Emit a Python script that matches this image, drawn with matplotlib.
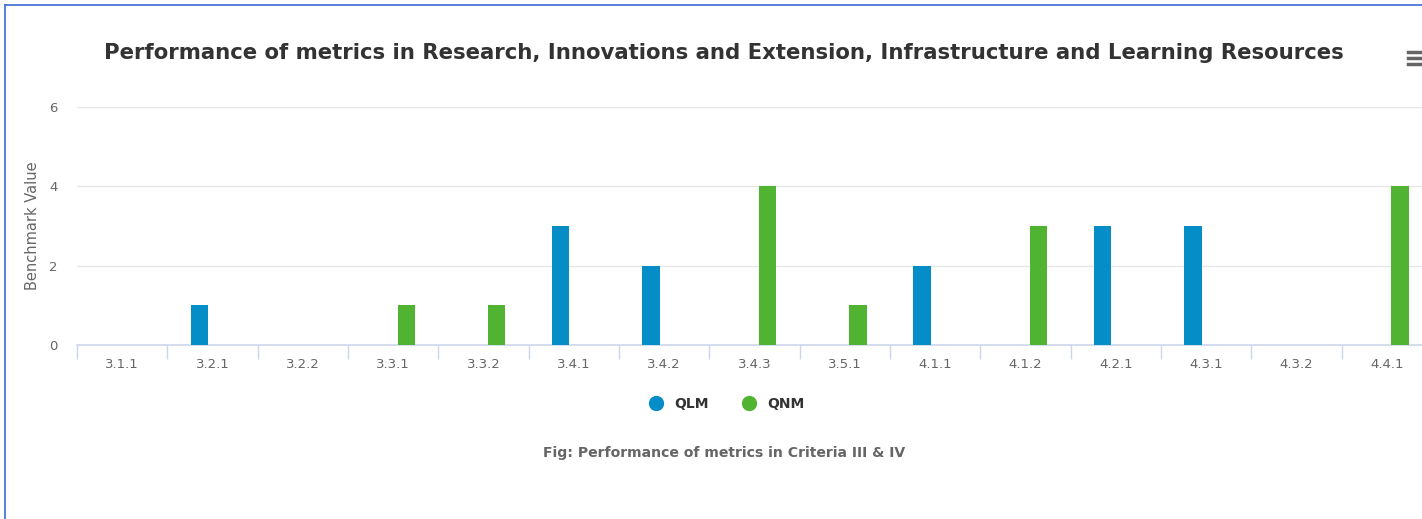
import numpy as np
import matplotlib
matplotlib.use("Agg")
import matplotlib.pyplot as plt
from matplotlib.lines import Line2D

categories = ['3.1.1', '3.2.1', '3.2.2', '3.3.1', '3.3.2', '3.4.1', '3.4.2', '3.4.3',
              '3.5.1', '4.1.1', '4.1.2', '4.2.1', '4.3.1', '4.3.2', '4.4.1']
qlm = [0, 1, 0, 0, 0, 3, 2, 0, 0, 2, 0, 3, 3, 0, 0]
qnm = [0, 0, 0, 1, 1, 0, 0, 4, 1, 0, 3, 0, 0, 0, 4]

W, H = 1422, 519
fig = plt.figure(figsize=(W / 100, H / 100), dpi=100)
plt.rcParams['font.family'] = ['DejaVu Sans']

# plot area runs a bit past the right edge, like the cropped original
ax = fig.add_axes([77 / W, 1 - 345 / H, (1432 - 77) / W, (345 - 107) / H])

x = np.arange(len(categories))
bw = 0.19
ax.bar(x - 0.145, qlm, bw, color='#058DC7', label='QLM', zorder=3)
ax.bar(x + 0.145, qnm, bw, color='#50B432', label='QNM', zorder=3)

ax.set_xlim(-0.5, len(categories) - 0.5)
ax.set_ylim(0, 6)
ax.set_yticks([0, 2, 4, 6])
ax.tick_params(axis='y', length=0, labelsize=9.5, labelcolor='#666666', pad=14)
ax.set_xticks(x)
ax.set_xticklabels(categories)
ax.tick_params(axis='x', which='major', length=0, labelsize=9.5, labelcolor='#666666', pad=9)
ax.set_xticks(np.arange(-0.5, len(categories)), minor=True)
ax.tick_params(axis='x', which='minor', length=10, color='#ccd6eb', width=1)

for s in ['top', 'right', 'left']:
    ax.spines[s].set_visible(False)
ax.spines['bottom'].set_color('#ccd6eb')
ax.spines['bottom'].set_linewidth(1.2)
for v in [2, 4, 6]:
    ax.axhline(v, color='#e6e6e6', lw=1, zorder=1)

ax.set_ylabel('Benchmark Value', fontsize=10.5, color='#666666')
ax.yaxis.set_label_coords(-37 / (1432 - 77), 0.5)

fig.text(724 / W, 1 - 53 / H, 'Performance of metrics in Research, Innovations and Extension, '
         'Infrastructure and Learning Resources', ha='center', va='center',
         fontsize=15.3, fontweight='bold', color='#333333')

handles = [Line2D([], [], marker='o', ls='', ms=10, color='#058DC7'),
           Line2D([], [], marker='o', ls='', ms=10, color='#50B432')]
leg = fig.legend(handles, ['QLM', 'QNM'], loc='center', bbox_to_anchor=(723 / W, 1 - 404 / H),
                 ncol=2, frameon=False, handletextpad=0.3, columnspacing=1.9,
                 prop={'weight': 'bold', 'size': 10})
for t in leg.get_texts():
    t.set_color('#333333')

fig.text(724 / W, 1 - 453 / H, 'Fig: Performance of metrics in Criteria III & IV',
         ha='center', va='center', fontsize=10.1, fontweight='bold', color='#666666')

# menu icon
for yy in [52, 58, 64]:
    fig.add_artist(Line2D([1408 / W, 1.0], [1 - yy / H] * 2, color='#666666', lw=2.5))

# blue frame on left/top
fig.add_artist(Line2D([4.5 / W, 4.5 / W], [0, 1 - 4.5 / H], color='#3c6bd0', lw=1.2))
fig.add_artist(Line2D([4.5 / W, 1], [1 - 4.5 / H] * 2, color='#3c6bd0', lw=1.2))

fig.savefig('out.png', dpi=100)
